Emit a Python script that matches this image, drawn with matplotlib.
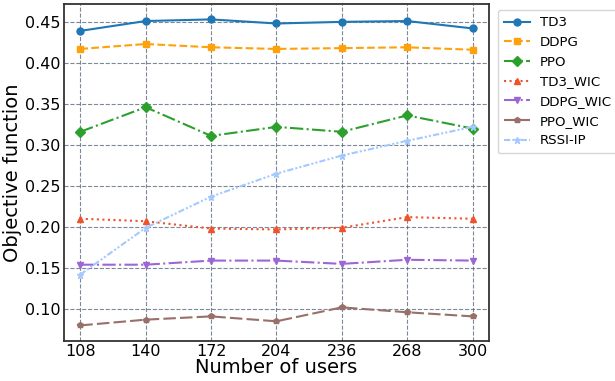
import matplotlib
matplotlib.use("Agg")
import matplotlib.pyplot as plt

users = [108, 140, 172, 204, 236, 268, 300]

td3 = [0.439, 0.451, 0.453, 0.448, 0.450, 0.451, 0.442]
ddpg = [0.417, 0.423, 0.419, 0.417, 0.418, 0.419, 0.416]
ppo = [0.316, 0.346, 0.311, 0.322, 0.316, 0.336, 0.320]
td3_wic = [0.210, 0.207, 0.198, 0.197, 0.199, 0.212, 0.210]
ddpg_wic = [0.154, 0.154, 0.159, 0.159, 0.155, 0.160, 0.159]
ppo_wic = [0.080, 0.087, 0.091, 0.085, 0.102, 0.096, 0.091]
rssi_ip = [0.142, 0.199, 0.237, 0.265, 0.287, 0.305, 0.322]

fig = plt.figure(figsize=(6.15, 3.81), dpi=100)
ax = fig.add_axes([0.104, 0.105, 0.691, 0.885])

ax.plot(users, td3, color="#1f77b4", linestyle="-", marker="o", markersize=5, lw=1.5, label="TD3")
ax.plot(users, ddpg, color="#ffa10a", linestyle="--", marker="s", markersize=5, lw=1.5, label="DDPG")
ax.plot(users, ppo, color="#2ca02c", linestyle="-.", marker="D", markersize=5, lw=1.5, label="PPO")
ax.plot(users, td3_wic, color="#f0532b", linestyle=":", marker="^", markersize=5, lw=1.5, label="TD3_WIC")
ax.plot(users, ddpg_wic, color="#9d66d6", linestyle="-.", marker="v", markersize=5, lw=1.5, label="DDPG_WIC")
ax.plot(users, ppo_wic, color="#987069", linestyle=(0, (6, 2)), marker="p", markersize=4, lw=1.5, label="PPO_WIC")
ax.plot(users, rssi_ip, color="#a5c8ff", linestyle=(0, (3, 1, 1, 1, 1, 1)), marker="*", markersize=5, lw=1.5, label="RSSI-IP")

ax.set_xticks(users)
ax.set_xlim(100, 308)
ax.set_ylim(0.061, 0.472)
ax.set_yticks([0.10, 0.15, 0.20, 0.25, 0.30, 0.35, 0.40, 0.45])
ax.tick_params(labelsize=11.5, length=0, pad=2.5)
ax.set_xlabel("Number of users", fontsize=14, labelpad=-1)
ax.set_ylabel("Objective function", fontsize=14, labelpad=2)
ax.grid(True, linestyle="--", color="#4f6078", alpha=0.75, lw=0.8)
for s in ax.spines.values():
    s.set_linewidth(1.3)
    s.set_color("#333333")

ax.legend(loc="upper left", bbox_to_anchor=(1.005, 1.0), fontsize=9.6,
          handlelength=2.0, handletextpad=0.7, borderpad=0.45)

fig.savefig("out.png", dpi=100)
